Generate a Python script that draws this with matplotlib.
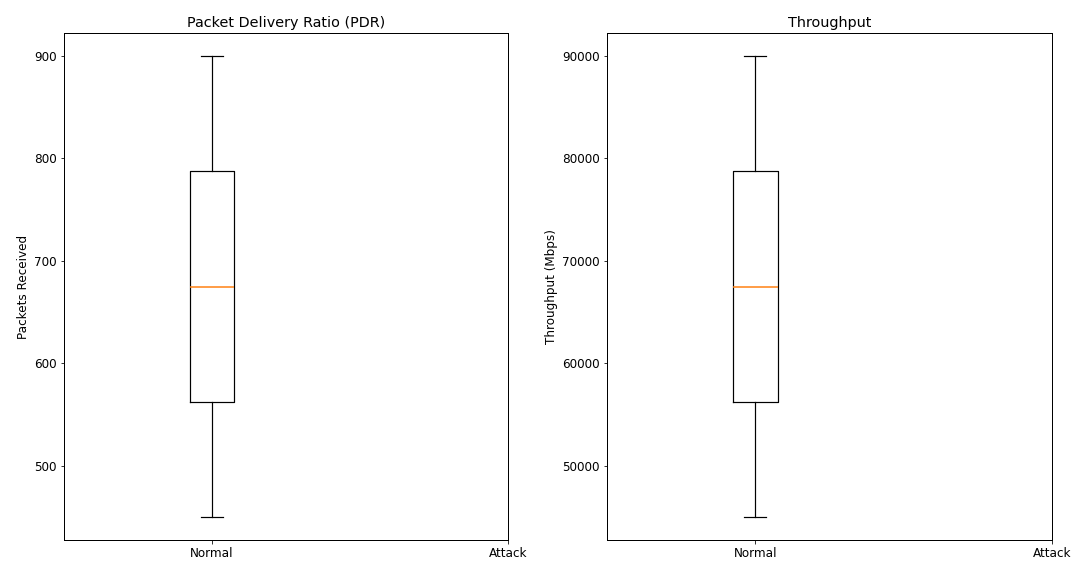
import numpy as np
import matplotlib.pyplot as plt

# Packets received / throughput for each scenario (attack run recorded nothing)
Labels = ["Normal", "Attack"]
PdrNormal = [450, 900]
PdrAttack = []
ThroughputNormal = [45000, 90000]
ThroughputAttack = []

plt.rcParams['font.size'] = 12
plt.rcParams['axes.linewidth'] = 1.0


def draw_box(ax, normal, attack, title, ylabel):
    lw = 1.2
    ax.boxplot([normal, attack], tick_labels=Labels,
               boxprops=dict(linewidth=lw),
               whiskerprops=dict(linewidth=lw),
               capprops=dict(linewidth=lw),
               medianprops=dict(color='#ff7f0e', linewidth=lw + 0.3))
    ax.set_title(title)
    ax.set_ylabel(ylabel)
    ax.set_xlim(0.5, 2.0)


fig = plt.figure(figsize=(1078 / 72, 563 / 72), dpi=72)
ax1 = fig.add_axes([64 / 1078, 1 - 540 / 563, 444 / 1078, 507 / 563])
ax2 = fig.add_axes([607 / 1078, 1 - 540 / 563, 445 / 1078, 507 / 563])

draw_box(ax1, PdrNormal, PdrAttack, "Packet Delivery Ratio (PDR)", "Packets Received")
draw_box(ax2, ThroughputNormal, ThroughputAttack, "Throughput", "Throughput (Mbps)")

fig.savefig("out.png", dpi=72)
